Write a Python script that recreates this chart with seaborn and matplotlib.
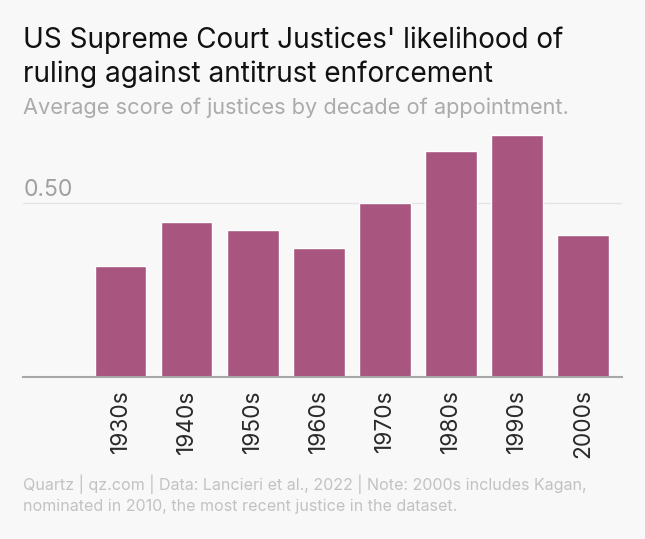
import matplotlib
matplotlib.use("Agg")
import matplotlib.pyplot as plt
import matplotlib.transforms as mtransforms
import seaborn as sns

decades = ["1930s", "1940s", "1950s", "1960s", "1970s", "1980s", "1990s", "2000s"]
scores = [0.318, 0.443, 0.422, 0.371, 0.498, 0.648, 0.693, 0.408]
yticks = [0.5]

title_lines = ["US Supreme Court Justices' likelihood of",
               "ruling against antitrust enforcement"]
subtitle = "Average score of justices by decade of appointment."
footer_lines = ["Quartz | qz.com | Data: Lancieri et al., 2022 | Note: 2000s includes Kagan,",
                "nominated in 2010, the most recent justice in the dataset."]

sns.set_style("white")
plt.rcParams['font.family'] = ['Inter', 'DejaVu Sans']

BG = "#f8f8f8"
BAR = "#a8567f"

fig = plt.figure(figsize=(6.45, 5.39), dpi=100, facecolor=BG)
ax = fig.add_axes([0.0363, 0.3011, 0.9273, 0.4650])
ax.set_facecolor(BG)

sns.barplot(x=decades, y=scores, color=BAR, saturation=1, width=0.78, ax=ax)

ax.set_xlim(-1.47, 7.58)
ax.set_ylim(0, 0.72)
ax.set_yticks(yticks)
ax.set_yticklabels([])
ax.tick_params(axis='y', length=0)
ax.yaxis.grid(True, color="#e4e4e4", linewidth=1)
ax.set_axisbelow(True)

ax.tick_params(axis='x', length=0, pad=9, labelsize=16.3, labelcolor="#2a2a2a", rotation=90)
for lab in ax.get_xticklabels():
    lab.set_va('top')
ax.set_xlabel("")
ax.set_ylabel("")

for s in ["top", "right", "left"]:
    ax.spines[s].set_visible(False)
ax.spines["bottom"].set_color("#a8a8a8")
ax.spines["bottom"].set_linewidth(1.5)

trans = mtransforms.blended_transform_factory(ax.transAxes, ax.transData)
off = mtransforms.ScaledTranslation(0, 6.5 / 100, fig.dpi_scale_trans)
for v in yticks:
    ax.text(0, v, f"{v:.2f}", transform=trans + off, ha='left', va='baseline',
            fontsize=16.5, color="#a0a0a0")

x0 = 23 / 645
fig.text(x0, 1 - 48.5 / 539, title_lines[0], fontsize=20.1, color="#111111", va='baseline', ha='left')
fig.text(x0, 1 - 81.5 / 539, title_lines[1], fontsize=20.1, color="#111111", va='baseline', ha='left')
fig.text(x0, 1 - 114.5 / 539, subtitle, fontsize=15.7, color="#ababab", va='baseline', ha='left')
fig.text(x0, 1 - 489.5 / 539, footer_lines[0], fontsize=11.55, color="#c2c2c2", va='baseline', ha='left')
fig.text(x0, 1 - 510.5 / 539, footer_lines[1], fontsize=11.55, color="#c2c2c2", va='baseline', ha='left')

fig.savefig("out.png", dpi=100, facecolor=BG)
